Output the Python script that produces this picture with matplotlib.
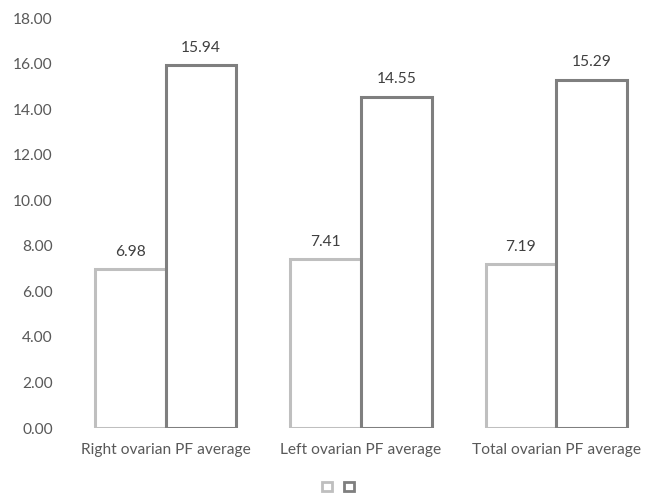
import numpy as np
import matplotlib.pyplot as plt
from matplotlib.patches import Patch

# PF averages for the two groups
categories = ["Right ovarian PF average", "Left ovarian PF average", "Total ovarian PF average"]
group_a = [6.98, 7.41, 7.19]
group_b = [15.94, 14.55, 15.29]

light = "#BFBFBF"
dark = "#7F7F7F"
text_col = "#595959"

plt.rcParams['font.family'] = ['Lato', 'DejaVu Sans']

fig = plt.figure(figsize=(6.54, 4.93), dpi=100)
ax = fig.add_axes([68 / 654, 1 - 428 / 493, 586 / 654, 410 / 493])

x = np.arange(len(categories))
w = 0.362
bars_a = ax.bar(x - w / 2, group_a, w, facecolor="white", edgecolor=light, linewidth=2.2, zorder=2)
bars_b = ax.bar(x + w / 2, group_b, w, facecolor="white", edgecolor=dark, linewidth=2.2, zorder=3)

# value labels above each bar
for bars, vals in ((bars_a, group_a), (bars_b, group_b)):
    for b, v in zip(bars, vals):
        ax.text(b.get_x() + b.get_width() / 2, v + 0.45, f"{v:.2f}",
                ha="center", va="bottom", fontsize=11.2, color="#404040")

ax.set_xlim(-0.5, 2.5)
ax.set_ylim(0, 18)
ax.set_yticks(np.arange(0, 18.1, 2))
ax.set_yticklabels([f"{t:.2f}" for t in np.arange(0, 18.1, 2)])
ax.set_xticks(x)
ax.set_xticklabels(categories)
ax.tick_params(axis="both", length=0, labelsize=11.2, labelcolor=text_col)
ax.tick_params(axis="y", pad=11)
ax.tick_params(axis="x", pad=11)
for s in ax.spines.values():
    s.set_visible(False)

handles = [Patch(facecolor="white", edgecolor=light, linewidth=2),
           Patch(facecolor="white", edgecolor=dark, linewidth=2)]
fig.legend(handles, ["", ""], loc="center", bbox_to_anchor=(338 / 654, 1 - 487 / 493),
           ncol=2, frameon=False, fontsize=9, handlelength=0.8, handleheight=0.8,
           handletextpad=0.0, columnspacing=1.0, borderpad=0)

fig.savefig("out.png", dpi=100)
